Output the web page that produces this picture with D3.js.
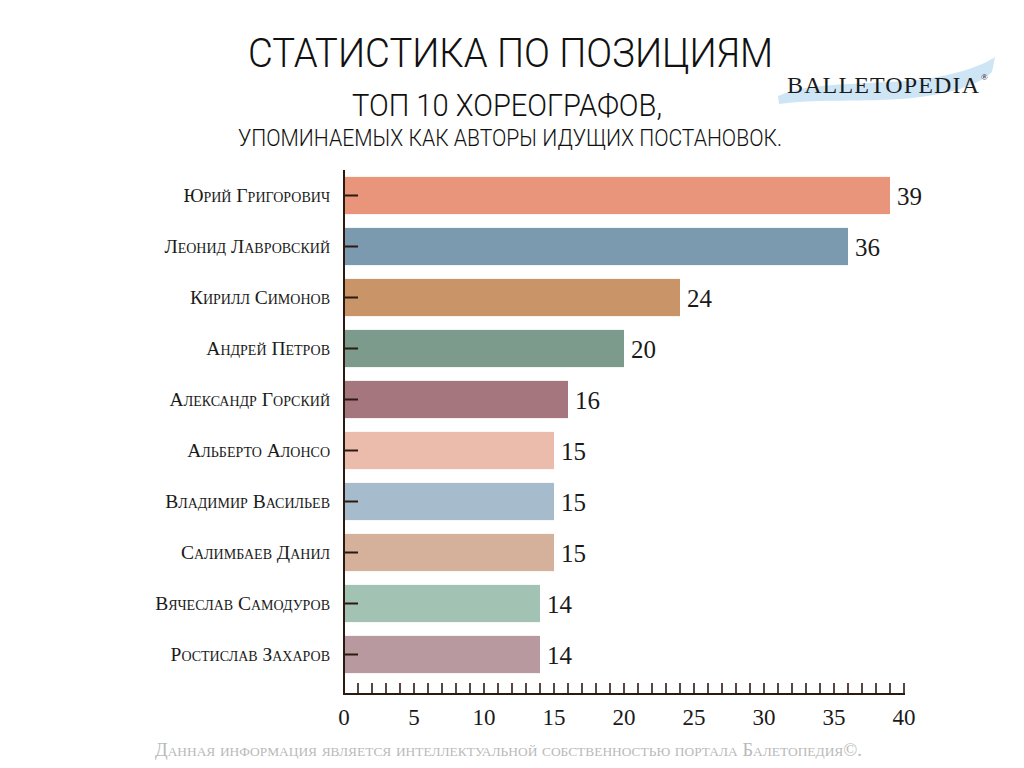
<!DOCTYPE html>
<html>
<head>
<meta charset="utf-8">
<style>
  body { margin: 0px; background: #fff; }
  svg { display: block; }
</style>
</head>
<body>
<script src="https://cdn.jsdelivr.net/npm/d3@7"></script>
<script>
  // *** DATA ***
  var names = ["Юрий Григорович", "Леонид Лавровский", "Кирилл Симонов", "Андрей Петров",
               "Александр Горский", "Альберто Алонсо", "Владимир Васильев", "Салимбаев Данил",
               "Вячеслав Самодуров", "Ростислав Захаров"];
  var counts = [39, 36, 24, 20, 16, 15, 15, 15, 14, 14];
  var barColors = ["#e8957b", "#7b9ab0", "#c99467", "#7d9b8d", "#a5767e",
                   "#ebbbac", "#a6bccd", "#d5b09b", "#a2c3b3", "#b8999f"];
  var tickLabels = [0, 5, 10, 15, 20, 25, 30, 35, 40];

  var title = "СТАТИСТИКА ПО ПОЗИЦИЯМ";
  var subtitle1 = "ТОП 10 ХОРЕОГРАФОВ,";
  var subtitle2 = "УПОМИНАЕМЫХ КАК АВТОРЫ ИДУЩИХ ПОСТАНОВОК.";
  var footer = "Данная информация является интеллектуальной собственностью портала Балетопедия©.";

  // *** LAYOUT ***
  var W = 1024, H = 768;
  var axisColor = "#2a1a10";
  var serif = "'Liberation Serif', 'DejaVu Serif', serif";
  var thin = "Roboto, 'Liberation Sans Narrow', sans-serif";

  var svg = d3.select("body").append("svg")
    .attr("width", W)
    .attr("height", H);

  var x = d3.scaleLinear().domain([0, 40]).range([344, 904]);
  var y = d3.scaleBand().domain(names).range([170, 680])
    .paddingInner(0.27).paddingOuter(0.135);

  // titles (thin, condensed)
  function titleText(str, tx, ty, len, size) {
    svg.append("text")
      .attr("x", tx).attr("y", ty)
      .attr("textLength", len).attr("lengthAdjust", "spacingAndGlyphs")
      .style("font-family", thin).style("font-weight", 300)
      .style("font-size", size + "px").style("fill", "#111")
      .text(str);
  }
  titleText(title, 248, 67, 525, 41);
  titleText(subtitle1, 352, 116, 310, 31);
  titleText(subtitle2, 238, 146, 544, 24);

  // logo swoosh + wordmark
  svg.append("path")
    .attr("d", "M778,96 C815,80 870,86 925,79 C958,74 982,66 995,57 L992,72 C975,88 940,96 900,99 C855,102 812,99 779,104 Z")
    .style("fill", "#cde5f5");
  svg.append("text")
    .attr("x", 787).attr("y", 93)
    .attr("textLength", 192).attr("lengthAdjust", "spacing")
    .style("font-family", serif).style("font-size", "24px").style("fill", "#1a1a1a")
    .text("BALLETOPEDIA");
  svg.append("text")
    .attr("x", 981).attr("y", 80)
    .style("font-family", serif).style("font-size", "9px").style("fill", "#1a1a1a")
    .text("®");

  // bars
  svg.selectAll("rect.bar").data(names)
    .enter().append("rect")
    .attr("class", "bar")
    .attr("x", x(0))
    .attr("y", function(d){ return y(d); })
    .attr("width", function(d, i){ return x(counts[i]) - x(0); })
    .attr("height", y.bandwidth())
    .style("fill", function(d, i){ return barColors[i]; });

  // value labels
  svg.selectAll("text.val").data(names)
    .enter().append("text")
    .attr("class", "val")
    .attr("x", function(d, i){ return x(counts[i]) + 7; })
    .attr("y", function(d){ return y(d) + y.bandwidth() / 2; })
    .attr("dy", ".36em")
    .style("font-family", serif).style("font-size", "25px").style("fill", "#1a1a1a")
    .text(function(d, i){ return counts[i]; });

  // y axis: line, inward ticks, small-caps names
  svg.append("line")
    .attr("x1", x(0)).attr("x2", x(0))
    .attr("y1", 170).attr("y2", 694)
    .style("stroke", axisColor).style("stroke-width", 2);
  svg.selectAll("line.ytick").data(names)
    .enter().append("line")
    .attr("class", "ytick")
    .attr("x1", x(0)).attr("x2", x(0) + 14)
    .attr("y1", function(d){ return y(d) + y.bandwidth() / 2; })
    .attr("y2", function(d){ return y(d) + y.bandwidth() / 2; })
    .style("stroke", axisColor).style("stroke-width", 2);
  svg.selectAll("text.name").data(names)
    .enter().append("text")
    .attr("class", "name")
    .attr("x", 330)
    .attr("y", function(d){ return y(d) + y.bandwidth() / 2; })
    .attr("dy", ".35em")
    .style("text-anchor", "end")
    .style("font-family", serif).style("font-size", "19.5px")
    .style("font-variant", "small-caps").style("fill", "#1a1a1a")
    .text(function(d){ return d; });

  // x axis: line, minor ticks every unit pointing up, labels every 5
  svg.append("line")
    .attr("x1", x(0) - 1).attr("x2", x(40) + 1)
    .attr("y1", 694).attr("y2", 694)
    .style("stroke", axisColor).style("stroke-width", 2);
  svg.selectAll("line.xtick").data(d3.range(1, 41))
    .enter().append("line")
    .attr("class", "xtick")
    .attr("x1", function(d){ return x(d); }).attr("x2", function(d){ return x(d); })
    .attr("y1", 694).attr("y2", 683)
    .style("stroke", axisColor).style("stroke-width", 1.6);
  svg.selectAll("text.xlab").data(tickLabels)
    .enter().append("text")
    .attr("class", "xlab")
    .attr("x", function(d){ return x(d); })
    .attr("y", 725)
    .style("text-anchor", "middle")
    .style("font-family", serif).style("font-size", "23px").style("fill", "#1a1a1a")
    .text(function(d){ return d; });

  // footer
  svg.append("text")
    .attr("x", 155).attr("y", 756)
    .attr("textLength", 707).attr("lengthAdjust", "spacingAndGlyphs")
    .style("font-family", serif).style("font-size", "18px")
    .style("font-variant", "small-caps").style("fill", "#b9b9b9")
    .text(footer);
</script>
</body>
</html>
